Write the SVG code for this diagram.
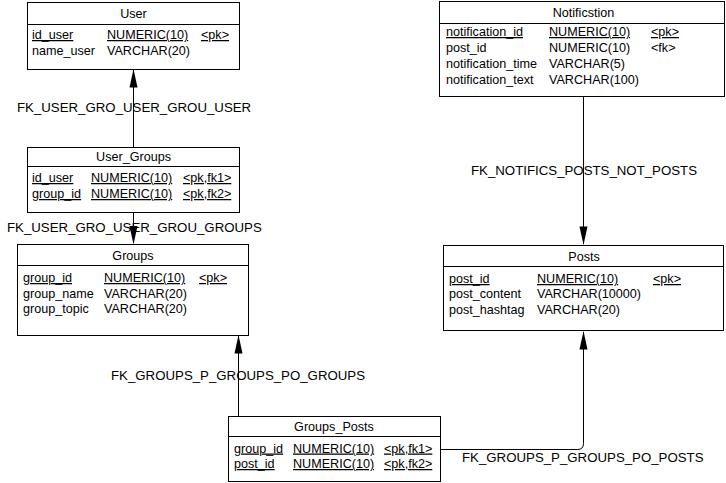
<svg xmlns="http://www.w3.org/2000/svg" width="726" height="483" viewBox="0 0 726 483">
<style>
text{font-family:"Liberation Sans",Arial,sans-serif;font-size:12.6px;fill:#000}
.t{text-anchor:middle}
.u{text-decoration:underline}
.lbl{font-size:13.25px}
.box{fill:#fff;stroke:#000;stroke-width:1}
.div{stroke:#000;stroke-width:1}
.ln{fill:none;stroke:#000;stroke-width:1}
.ah{fill:#000;stroke:none}
</style>
<rect width="726" height="483" fill="#fff"/>
<g id="connectors">
<line class="ln" x1="133.5" y1="147" x2="133.5" y2="70"/>
<polygon class="ah" points="133.5,69 129.5,87.5 137.5,87.5"/>
<text class="lbl" x="17" y="112">FK_USER_GRO_USER_GROU_USER</text>
<line class="ln" x1="133.5" y1="213" x2="133.5" y2="243"/>
<polygon class="ah" points="133.5,244.5 129.5,226 137.5,226"/>
<text class="lbl" x="7" y="232">FK_USER_GRO_USER_GROU_GROUPS</text>
<line class="ln" x1="238.5" y1="416" x2="238.5" y2="336"/>
<polygon class="ah" points="238.5,335 234.5,353.5 242.5,353.5"/>
<text class="lbl" x="111" y="380">FK_GROUPS_P_GROUPS_PO_GROUPS</text>
<path class="ln" d="M441,449.5 H577.5 Q583.5,449.5 583.5,443.5 V332"/>
<polygon class="ah" points="583.5,331 579.5,349.5 587.5,349.5"/>
<text class="lbl" x="462" y="462">FK_GROUPS_P_GROUPS_PO_POSTS</text>
<line class="ln" x1="583.5" y1="97" x2="583.5" y2="244"/>
<polygon class="ah" points="583.5,245 579.5,226.5 587.5,226.5"/>
<text class="lbl" x="471" y="175">FK_NOTIFICS_POSTS_NOT_POSTS</text>
</g>
<g id="User">
<rect class="box" x="27.5" y="2.5" width="212" height="67"/>
<line class="div" x1="27.5" y1="24.5" x2="239.5" y2="24.5"/>
<text class="t" x="133.5" y="18">User</text>
<text class="u" x="32" y="39">id_user</text>
<text class="u" x="107" y="39">NUMERIC(10)</text>
<text class="u" x="201" y="39">&lt;pk&gt;</text>
<text x="32" y="55">name_user</text>
<text x="107" y="55">VARCHAR(20)</text>
</g>
<g id="User_Groups">
<rect class="box" x="27.5" y="147.5" width="212" height="65"/>
<line class="div" x1="27.5" y1="166.5" x2="239.5" y2="166.5"/>
<text class="t" x="133.5" y="161">User_Groups</text>
<text class="u" x="32" y="182">id_user</text>
<text class="u" x="91" y="182">NUMERIC(10)</text>
<text class="u" x="183" y="182">&lt;pk,fk1&gt;</text>
<text class="u" x="32" y="198">group_id</text>
<text class="u" x="91" y="198">NUMERIC(10)</text>
<text class="u" x="183" y="198">&lt;pk,fk2&gt;</text>
</g>
<g id="Groups">
<rect class="box" x="17.5" y="244.5" width="231" height="91"/>
<line class="div" x1="17.5" y1="265.5" x2="248.5" y2="265.5"/>
<text class="t" x="133" y="260">Groups</text>
<text class="u" x="23" y="282">group_id</text>
<text class="u" x="104" y="282">NUMERIC(10)</text>
<text class="u" x="199" y="282">&lt;pk&gt;</text>
<text x="23" y="297.5">group_name</text>
<text x="104" y="297.5">VARCHAR(20)</text>
<text x="23" y="313">group_topic</text>
<text x="104" y="313">VARCHAR(20)</text>
</g>
<g id="Groups_Posts">
<rect class="box" x="228.5" y="416.5" width="212" height="65"/>
<line class="div" x1="228.5" y1="436.5" x2="440.5" y2="436.5"/>
<text class="t" x="334" y="431">Groups_Posts</text>
<text class="u" x="234" y="452.5">group_id</text>
<text class="u" x="293" y="452.5">NUMERIC(10)</text>
<text class="u" x="384" y="452.5">&lt;pk,fk1&gt;</text>
<text class="u" x="234" y="468">post_id</text>
<text class="u" x="293" y="468">NUMERIC(10)</text>
<text class="u" x="384" y="468">&lt;pk,fk2&gt;</text>
</g>
<g id="Notification">
<rect class="box" x="439.5" y="1.5" width="285" height="95"/>
<line class="div" x1="439.5" y1="23.5" x2="724.5" y2="23.5"/>
<text class="t" x="583.5" y="17">Notificstion</text>
<text class="u" x="446" y="36">notification_id</text>
<text class="u" x="549" y="36">NUMERIC(10)</text>
<text class="u" x="651" y="36">&lt;pk&gt;</text>
<text x="446" y="52">post_id</text>
<text x="549" y="52">NUMERIC(10)</text>
<text x="651" y="52">&lt;fk&gt;</text>
<text x="446" y="68">notification_time</text>
<text x="549" y="68">VARCHAR(5)</text>
<text x="446" y="84">notification_text</text>
<text x="549" y="84">VARCHAR(100)</text>
</g>
<g id="Posts">
<rect class="box" x="443.5" y="245.5" width="280" height="85"/>
<line class="div" x1="443.5" y1="266.5" x2="723.5" y2="266.5"/>
<text class="t" x="584" y="261">Posts</text>
<text class="u" x="449" y="283">post_id</text>
<text class="u" x="537" y="283">NUMERIC(10)</text>
<text class="u" x="653" y="283">&lt;pk&gt;</text>
<text x="449" y="298">post_content</text>
<text x="537" y="298">VARCHAR(10000)</text>
<text x="449" y="313.5">post_hashtag</text>
<text x="537" y="313.5">VARCHAR(20)</text>
</g>
</svg>
